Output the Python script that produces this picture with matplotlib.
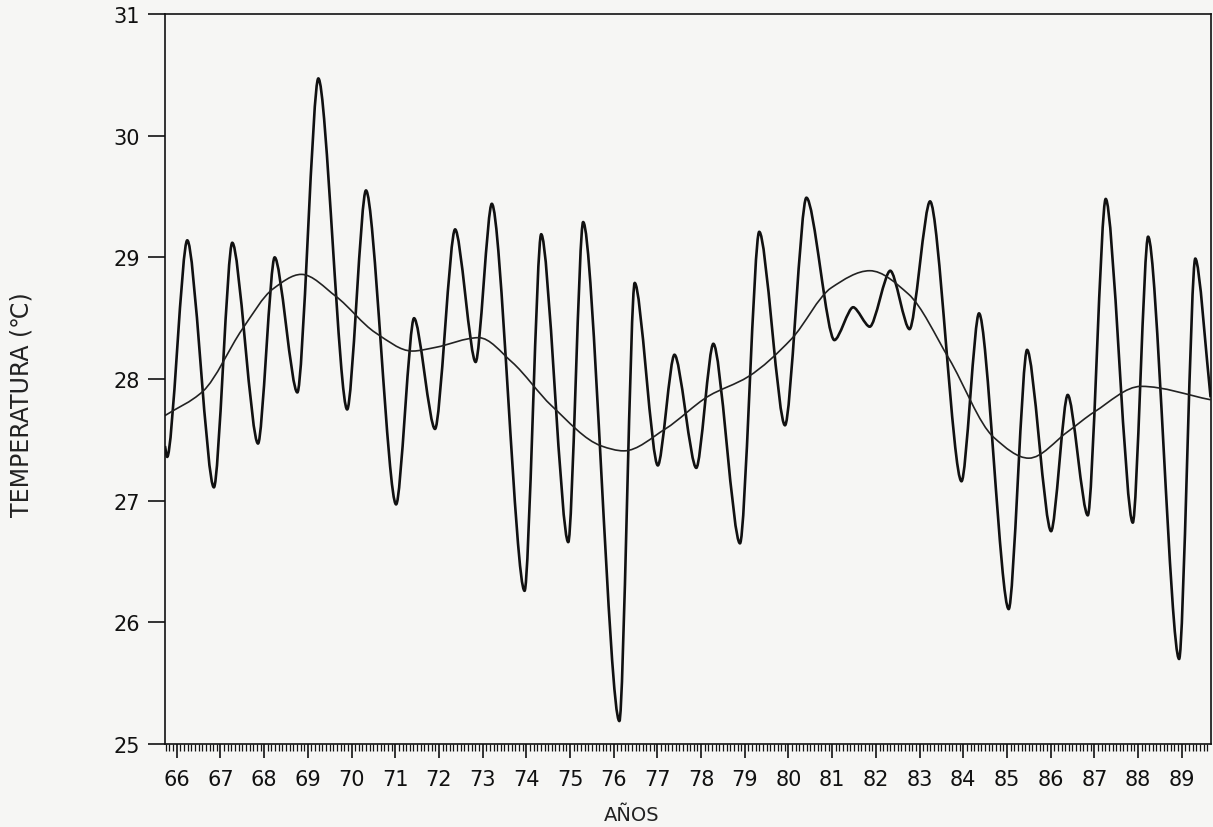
import matplotlib
matplotlib.use("Agg")
import matplotlib.pyplot as plt
from matplotlib.path import Path
from matplotlib.patches import PathPatch
from matplotlib.ticker import MultipleLocator

# serie mensual ajustada (picos y valles)
anos_serie = [65.73, 65.78, 66.24, 66.85, 67.27, 67.86, 68.24, 68.76, 69.24, 69.90,
              70.33, 71.02, 71.43, 71.91, 72.37, 72.84, 73.21, 73.96, 74.34, 74.96,
              75.30, 76.13, 76.48, 77.01, 77.39, 77.89, 78.28, 78.89, 79.33, 79.92,
              80.41, 81.05, 81.48, 81.86, 82.33, 82.77, 83.24, 83.96, 84.36, 85.04,
              85.46, 86.01, 86.39, 86.85, 87.26, 87.88, 88.23, 88.94, 89.31, 89.66]
temp_serie = [27.45, 27.36, 29.14, 27.11, 29.12, 27.47, 29.00, 27.89, 30.47, 27.75,
              29.55, 26.97, 28.50, 27.59, 29.23, 28.14, 29.44, 26.26, 29.19, 26.66,
              29.29, 25.19, 28.79, 27.29, 28.20, 27.27, 28.29, 26.65, 29.21, 27.62,
              29.49, 28.32, 28.59, 28.43, 28.89, 28.41, 29.46, 27.16, 28.54, 26.11,
              28.24, 26.75, 27.87, 26.88, 29.48, 26.82, 29.17, 25.70, 28.99, 27.85]

# tendencia de baja frecuencia
anos_tend = [65.73, 66.60, 67.50, 68.20, 68.85, 69.64, 70.55, 71.39, 71.92, 72.91,
             73.67, 74.58, 75.72, 76.23, 77.18, 78.17, 79.08, 80.07, 80.98, 81.86,
             82.74, 83.67, 84.70, 85.50, 86.40, 87.00, 88.07, 89.66]
temp_tend = [27.70, 27.90, 28.41, 28.74, 28.86, 28.68, 28.38, 28.23, 28.26, 28.34,
             28.14, 27.78, 27.45, 27.41, 27.59, 27.86, 28.02, 28.33, 28.75, 28.89,
             28.70, 28.17, 27.52, 27.35, 27.57, 27.73, 27.94, 27.83]

etiquetas_x = list(range(66, 90))
etiquetas_y = list(range(25, 32))


def curva(ax, xs, ys, k=1 / 3, **kw):
    # trazo suave (Bezier) que pasa por los puntos, tangente horizontal en extremos
    n = len(xs)
    d = [(ys[i + 1] - ys[i]) / (xs[i + 1] - xs[i]) for i in range(n - 1)]
    m = [d[0]] + [0.0] * (n - 2) + [d[-1]]
    for i in range(1, n - 1):
        if d[i - 1] * d[i] > 0:
            m[i] = 2.0 / (1.0 / d[i - 1] + 1.0 / d[i])
    verts = [(xs[0], ys[0])]
    codes = [Path.MOVETO]
    for i in range(n - 1):
        h = xs[i + 1] - xs[i]
        verts += [(xs[i] + h * k, ys[i] + m[i] * h * k),
                  (xs[i + 1] - h * k, ys[i + 1] - m[i + 1] * h * k),
                  (xs[i + 1], ys[i + 1])]
        codes += [Path.CURVE4] * 3
    ax.add_patch(PathPatch(Path(verts, codes), fill=False, **kw))


fondo = '#f6f6f4'
fig = plt.figure(figsize=(12.13, 8.28), dpi=100)
fig.patch.set_facecolor(fondo)
ax = fig.add_axes([0.136, 0.10, 0.862, 0.882])
ax.set_facecolor(fondo)

curva(ax, anos_serie, temp_serie, k=0.27, edgecolor='#111111', lw=1.9,
      joinstyle='round')
curva(ax, anos_tend, temp_tend, edgecolor='#222222', lw=1.2)

ax.set_xlim(65.73, 89.66)
ax.set_ylim(25, 31)
ax.set_xticks(etiquetas_x)
ax.set_xticklabels([str(a) for a in etiquetas_x])
ax.set_yticks(etiquetas_y)
ax.xaxis.set_minor_locator(MultipleLocator(1 / 12))

ax.tick_params(axis='x', which='major', direction='out', length=10, width=1.2,
               labelsize=15, pad=8, colors='#111111')
ax.tick_params(axis='x', which='minor', direction='out', length=5, width=0.9,
               colors='#111111')
ax.tick_params(axis='y', which='major', direction='out', length=12, width=1.2,
               labelsize=15, pad=6, colors='#111111')

for s in ax.spines.values():
    s.set_color('#111111')
    s.set_linewidth(1.2)

fig.text(22 / 1213, 1 - 405 / 828, 'TEMPERATURA (℃)', rotation=90,
         ha='center', va='center', fontsize=17, color='#222222')
fig.text(632 / 1213, 1 - 816 / 828, 'AÑOS', ha='center', va='center',
         fontsize=14, color='#222222')

fig.savefig('out.png', dpi=100, facecolor=fig.get_facecolor())
